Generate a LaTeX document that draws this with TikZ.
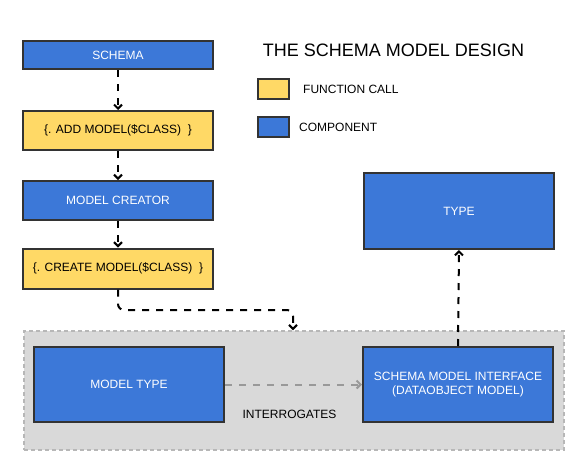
\documentclass[tikz,border=0pt]{standalone}
\usepackage{fontspec}
\setmainfont{Liberation Sans}
\usetikzlibrary{arrows.meta}
\definecolor{cblue}{HTML}{3C78D8}
\definecolor{cyellow}{HTML}{FFD966}
\definecolor{cborder}{HTML}{333333}
\definecolor{cgroup}{HTML}{D9D9D9}
\definecolor{cgroupline}{HTML}{B7B7B7}
\definecolor{cgrayarrow}{HTML}{999999}
\tikzset{
  basebox/.style={draw=cborder, line width=2pt, inner sep=0pt, font=\fontsize{12}{14}\selectfont, align=center},
  compbox/.style={basebox, fill=cblue, text=white},
  funcbox/.style={basebox, fill=cyellow, text=black},
  flow/.style={draw=black, line width=2pt, dash pattern=on 7pt off 7pt, -{Straight Barb[length=4pt,width=8pt]}},
  grayflow/.style={draw=cgrayarrow, line width=2pt, dash pattern=on 7pt off 7pt, -{Straight Barb[length=4pt,width=8pt]}},
  lbl/.style={inner sep=0pt, font=\fontsize{12}{14}\selectfont, text=black}
}
\begin{document}
\begin{tikzpicture}[x=1pt,y=-1pt]
\useasboundingbox (0,0) rectangle (584,471);
\fill[white] (0,0) rectangle (584,471);
% group container
\node[draw=cgroupline, fill=cgroup, line width=1.5pt, dash pattern=on 4pt off 3pt, minimum width=540pt, minimum height=119pt, inner sep=0pt] (group) at (294,390.5) {};
% left column
\node[compbox, minimum width=190pt, minimum height=28pt] (schema) at (118,55) {SCHEMA};
\node[funcbox, minimum width=190pt, minimum height=39pt] (add) at (118,130.5) {\{. ADD MODEL(\$CLASS)~~\}};
\node[compbox, minimum width=190pt, minimum height=39pt] (creator) at (118,200.5) {MODEL CREATOR};
\node[funcbox, minimum width=190pt, minimum height=40pt] (create) at (118,268.5) {\{. CREATE MODEL(\$CLASS)~~\}};
% right side
\node[compbox, minimum width=190pt, minimum height=76pt] (type) at (459,211) {TYPE};
\node[compbox, minimum width=190pt, minimum height=75pt] (mtype) at (129,384.5) {MODEL TYPE};
\node[compbox, minimum width=190pt, minimum height=75pt] (smi) at (458,384.5) {SCHEMA MODEL INTERFACE\\(DATAOBJECT MODEL)};
% title and legend
\node[inner sep=0pt, font=\fontsize{18}{20}\selectfont] (title) at (393.5,50.5) {THE SCHEMA MODEL DESIGN};
\node[funcbox, minimum width=31pt, minimum height=20pt] (legf) at (273.5,89) {};
\node[compbox, minimum width=31pt, minimum height=20pt] (legc) at (273.5,126.5) {};
\node[lbl, anchor=west] (legftext) at (303,89) {FUNCTION CALL};
\node[lbl, anchor=west] (legctext) at (299,127) {COMPONENT};
\node[lbl] (interr) at (289.5,414) {INTERROGATES};
% connectors
\draw[flow] (schema.south) -- (add.north);
\draw[flow] (add.south) -- (creator.north);
\draw[flow] (creator.south) -- (create.north);
\coordinate (bend) at (293,310);
\draw[flow, rounded corners=6pt] (create.south) |- (bend) -- (bend |- group.north);
\draw[grayflow] (mtype.east) -- (smi.west);
\draw[flow] (smi.north) -- (type.south);
\end{tikzpicture}
\end{document}
